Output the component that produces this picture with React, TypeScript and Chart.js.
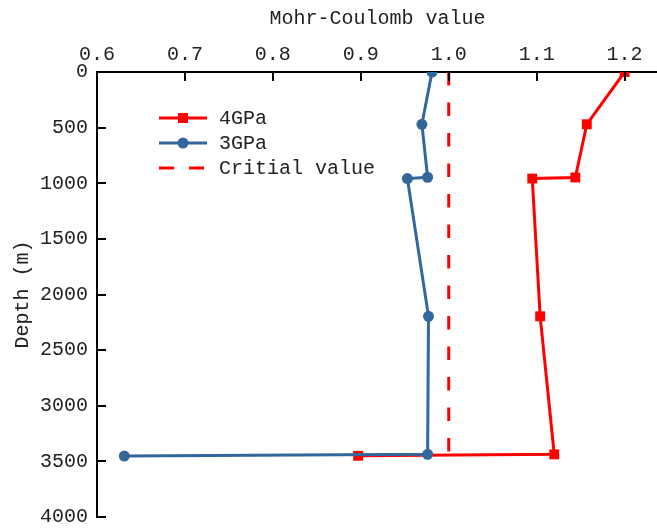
import React, { useEffect, useRef } from "react";
import { Chart, registerables } from "chart.js";

Chart.register(...registerables);

// ---- Data ----
const depth4GPa = [0, 470, 948, 958, 2196, 3437, 3450];
const mc4GPa = [1.2, 1.157, 1.144, 1.095, 1.104, 1.12, 0.897];

const depth3GPa = [0, 470, 946, 958, 2196, 3437, 3452];
const mc3GPa = [0.981, 0.9695, 0.976, 0.953, 0.977, 0.976, 0.631];

const depthCritical = [0, 3418];
const mcCritical = [1.0, 1.0];

const seriesLabels = ["4GPa", "3GPa", "Critial value"];
const xTitle = "Mohr-Coulomb value";
const yTitle = "Depth (m)";

const RED = "#ff0000";
const BLUE = "#33679c";
const FONT_FAMILY = "'Liberation Mono', 'DejaVu Sans Mono', monospace";
const FONT_SIZE = 20;

const toPoints = (xs: number[], ys: number[]) => xs.map((x, i) => ({ x, y: ys[i] }));

const inwardTicks = {
  id: "inwardTicks",
  afterDatasetsDraw(chart: any) {
    const { ctx, chartArea, scales } = chart;
    const x = scales.x;
    const y = scales.y;
    ctx.save();
    ctx.strokeStyle = "#000";
    ctx.lineWidth = 2;
    x.ticks.forEach((t: any) => {
      const px = Math.round(x.getPixelForValue(t.value));
      ctx.beginPath();
      ctx.moveTo(px, chartArea.top);
      ctx.lineTo(px, chartArea.top + 9);
      ctx.stroke();
    });
    y.ticks.forEach((t: any) => {
      const py = Math.round(y.getPixelForValue(t.value));
      ctx.beginPath();
      ctx.moveTo(chartArea.left, py);
      ctx.lineTo(chartArea.left + 9, py);
      ctx.stroke();
    });
    ctx.restore();
  },
};

const customLegend = {
  id: "customLegend",
  afterDraw(chart: any) {
    const { ctx } = chart;
    const rows = [
      { label: seriesLabels[0], color: RED, marker: "rect", dash: [] as number[] },
      { label: seriesLabels[1], color: BLUE, marker: "circle", dash: [] as number[] },
      { label: seriesLabels[2], color: RED, marker: "none", dash: [15, 15] },
    ];
    const x0 = 159;
    const x1 = 207;
    const tx = 219;
    const y0 = 118;
    const dy = 25;
    ctx.save();
    rows.forEach((r, i) => {
      const yy = y0 + i * dy;
      ctx.strokeStyle = r.color;
      ctx.lineWidth = 3;
      ctx.setLineDash(r.dash);
      ctx.beginPath();
      ctx.moveTo(x0, yy);
      ctx.lineTo(x1, yy);
      ctx.stroke();
      ctx.setLineDash([]);
      ctx.fillStyle = r.color;
      const cx = (x0 + x1) / 2;
      if (r.marker === "rect") {
        ctx.fillRect(cx - 5, yy - 5, 10, 10);
      } else if (r.marker === "circle") {
        ctx.beginPath();
        ctx.arc(cx, yy, 5.5, 0, Math.PI * 2);
        ctx.fill();
      }
      ctx.fillStyle = "#222";
      ctx.font = `${FONT_SIZE}px ${FONT_FAMILY}`;
      ctx.textBaseline = "middle";
      ctx.textAlign = "left";
      ctx.fillText(r.label, tx, yy + 1);
    });
    ctx.restore();
  },
};

export default function App() {
  const canvasRef = useRef<HTMLCanvasElement | null>(null);

  useEffect(() => {
    if (!canvasRef.current) return;
    const font = { family: FONT_FAMILY, size: FONT_SIZE };
    const chart = new Chart(canvasRef.current, {
      type: "line",
      data: {
        datasets: [
          {
            label: seriesLabels[1],
            data: toPoints(mc3GPa, depth3GPa),
            borderColor: BLUE,
            backgroundColor: BLUE,
            borderWidth: 3,
            pointStyle: "circle",
            pointRadius: 5.5,
            pointHoverRadius: 5.5,
            pointBorderWidth: 0,
            tension: 0,
            clip: 0,
            order: 0,
          },
          {
            label: seriesLabels[0],
            data: toPoints(mc4GPa, depth4GPa),
            borderColor: RED,
            backgroundColor: RED,
            borderWidth: 3,
            pointStyle: "rect",
            pointRadius: 7,
            pointHoverRadius: 7,
            pointBorderWidth: 0,
            tension: 0,
            clip: 0,
            order: 1,
          },
          {
            label: seriesLabels[2],
            data: toPoints(mcCritical, depthCritical),
            borderColor: RED,
            backgroundColor: RED,
            borderWidth: 3,
            borderDash: [13.5, 17],
            pointRadius: 0,
            tension: 0,
            clip: 0,
            order: 2,
          },
        ],
      },
      options: {
        animation: false,
        responsive: false,
        maintainAspectRatio: false,
        layout: { padding: { left: 0, right: 0, top: 0, bottom: 11 } },
        plugins: {
          legend: { display: false },
          tooltip: { enabled: false },
        },
        scales: {
          x: {
            type: "linear",
            position: "top",
            min: 0.6,
            max: 1.238,
            ticks: {
              stepSize: 0.1,
              includeBounds: false,
              autoSkip: false,
              maxRotation: 0,
              color: "#222",
              font,
              padding: 5,
              callback: (v: any) => Number(v).toFixed(1),
            },
            grid: { display: true, drawOnChartArea: false, drawTicks: false },
            border: { display: true, color: "#000", width: 2 },
            title: {
              display: true,
              text: xTitle,
              color: "#222",
              font,
              padding: { top: 7, bottom: 0 },
            },
            afterFit: (s: any) => {
              s.height = 72;
              s.paddingLeft = 0;
              s.paddingRight = 0;
            },
          },
          y: {
            type: "linear",
            reverse: true,
            min: 0,
            max: 4000,
            ticks: {
              stepSize: 500,
              autoSkip: false,
              color: "#222",
              font,
              padding: 9,
              callback: (v: any) => String(v),
            },
            grid: { display: true, drawOnChartArea: false, drawTicks: false },
            border: { display: true, color: "#000", width: 2 },
            title: {
              display: true,
              text: yTitle,
              color: "#222",
              font,
              padding: { top: 11, bottom: 0 },
            },
            afterFit: (s: any) => {
              s.width = 97;
              s.paddingTop = 0;
              s.paddingBottom = 0;
            },
          },
        },
      },
      plugins: [inwardTicks, customLegend],
    } as any);
    return () => chart.destroy();
  }, []);

  return (
    <div
      style={{
        position: "absolute",
        left: 0,
        top: 0,
        width: 657,
        height: 528,
        overflow: "hidden",
        background: "#fff",
      }}
    >
      <canvas ref={canvasRef} width={665} height={528} style={{ display: "block" }} />
    </div>
  );
}
